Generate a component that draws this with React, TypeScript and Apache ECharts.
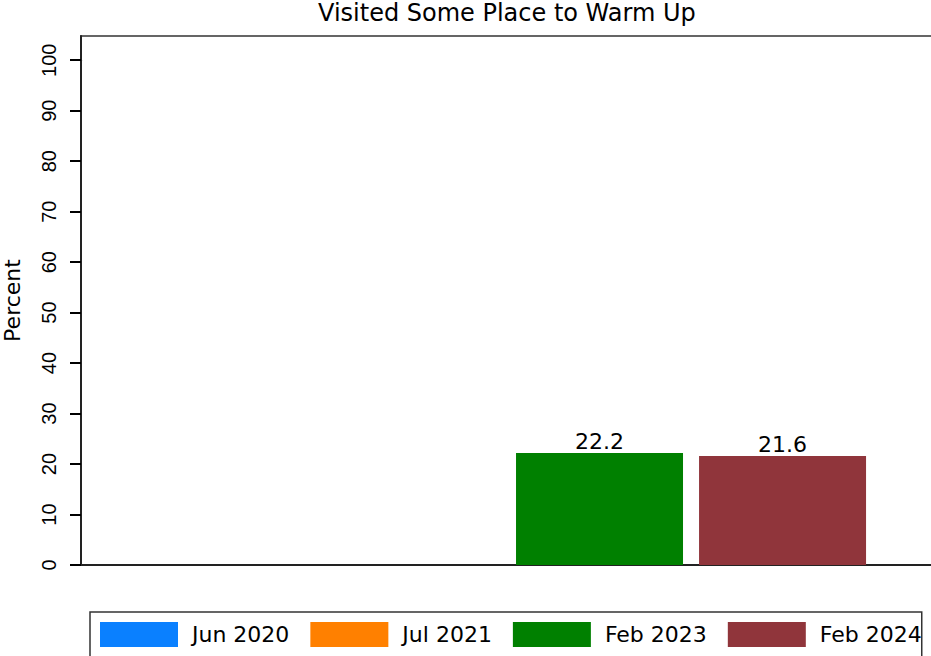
import { useEffect, useRef } from 'react';
import * as echarts from 'echarts';

const chartTitle = 'Visited Some Place to Warm Up';
const yAxisName = 'Percent';
const categories = ['All'];
const seriesNames = ['Jun 2020', 'Jul 2021', 'Feb 2023', 'Feb 2024'];
const jun2020: (number | null)[] = [null];
const jul2021: (number | null)[] = [null];
const feb2023: (number | null)[] = [22.2];
const feb2024: (number | null)[] = [21.6];
const yTicks = [0, 10, 20, 30, 40, 50, 60, 70, 80, 90, 100];

const seriesData = [jun2020, jul2021, feb2023, feb2024];
const seriesColors = ['#0A80FF', '#FF8000', '#008000', '#90353B'];

const FONT = '"DejaVu Sans", sans-serif';
const FONT_NARROW = '"Liberation Sans", Arial, sans-serif';

// plot region (outer box) and the inner region spanning 0..100
const PLOT_TOP = 36;
const PLOT_H = 529;
const Y_TOP_VALUE = 104.8;
const yMax = yTicks[yTicks.length - 1];
const INNER_TOP = PLOT_TOP + PLOT_H * (1 - yMax / Y_TOP_VALUE);
const INNER_H = PLOT_TOP + PLOT_H - INNER_TOP;

export default function App() {
  const ref = useRef<HTMLDivElement>(null);
  useEffect(() => {
    if (!ref.current) return;
    const chart = echarts.init(ref.current, null, { renderer: 'svg' });
    chart.setOption({
      animation: false,
      backgroundColor: '#ffffff',
      title: {
        text: chartTitle,
        left: 318,
        top: 1,
        padding: 0,
        textStyle: { fontFamily: FONT, fontSize: 24, fontWeight: 'normal', color: '#000' },
      },
      grid: [
        {
          left: 81,
          top: PLOT_TOP,
          width: 854,
          height: PLOT_H,
          show: true,
          borderColor: '#333',
          borderWidth: 1.5,
          containLabel: false,
          outerBoundsMode: 'none',
        },
        {
          left: 81,
          top: INNER_TOP,
          width: 854,
          height: INNER_H,
          show: false,
          containLabel: false,
          outerBoundsMode: 'none',
        },
      ],
      legend: {
        left: 90,
        top: 612,
        padding: [10, 0, 10, 10],
        itemWidth: 78,
        itemHeight: 25,
        itemGap: 21,
        icon: 'rect',
        borderColor: '#333',
        borderWidth: 1.5,
        data: seriesNames,
        textStyle: {
          fontFamily: FONT,
          fontSize: 22,
          color: '#000',
          padding: [0, 0, 0, 9],
        },
      },
      xAxis: [
        {
          gridIndex: 0,
          type: 'category',
          data: categories,
          axisLine: { show: false },
          axisTick: { show: false },
          axisLabel: { show: false },
          splitLine: { show: false },
        },
        {
          gridIndex: 1,
          type: 'category',
          data: categories,
          axisLine: { show: true, lineStyle: { color: '#222', width: 2 } },
          axisTick: { show: false },
          axisLabel: { show: false },
          splitLine: { show: false },
        },
      ],
      yAxis: [
        {
          gridIndex: 0,
          type: 'value',
          min: 0,
          max: Y_TOP_VALUE,
          name: yAxisName,
          nameLocation: 'middle',
          nameGap: 58,
          nameRotate: 90,
          nameTextStyle: { fontFamily: FONT, fontSize: 22, color: '#000' },
          axisLine: { show: true, lineStyle: { color: '#222', width: 2 } },
          axisTick: { show: false },
          axisLabel: { show: false },
          splitLine: { show: false },
        },
        {
          gridIndex: 1,
          type: 'value',
          min: 0,
          max: yMax,
          interval: 10,
          axisLine: { show: true, lineStyle: { color: '#222', width: 2 } },
          axisTick: {
            show: true,
            inside: false,
            length: 11,
            lineStyle: { color: '#000', width: 2, opacity: 1 },
          },
          axisLabel: {
            rotate: 90,
            margin: 22,
            fontFamily: FONT_NARROW,
            fontSize: 20,
            color: '#000',
          },
          splitLine: { show: false },
        },
      ],
      series: seriesNames.map((name, i) => ({
        name,
        type: 'bar',
        xAxisIndex: 1,
        yAxisIndex: 1,
        data: seriesData[i],
        barWidth: 167,
        barGap: '9.6%',
        itemStyle: { color: seriesColors[i] },
        label: {
          show: true,
          position: 'top',
          distance: 0,
          formatter: '{c}',
          fontFamily: FONT,
          fontSize: 22,
          color: '#000',
        },
      })),
    });
    return () => chart.dispose();
  }, []);
  return (
    <div
      ref={ref}
      style={{ position: 'fixed', left: 0, top: 0, width: 931, height: 656 }}
    />
  );
}
